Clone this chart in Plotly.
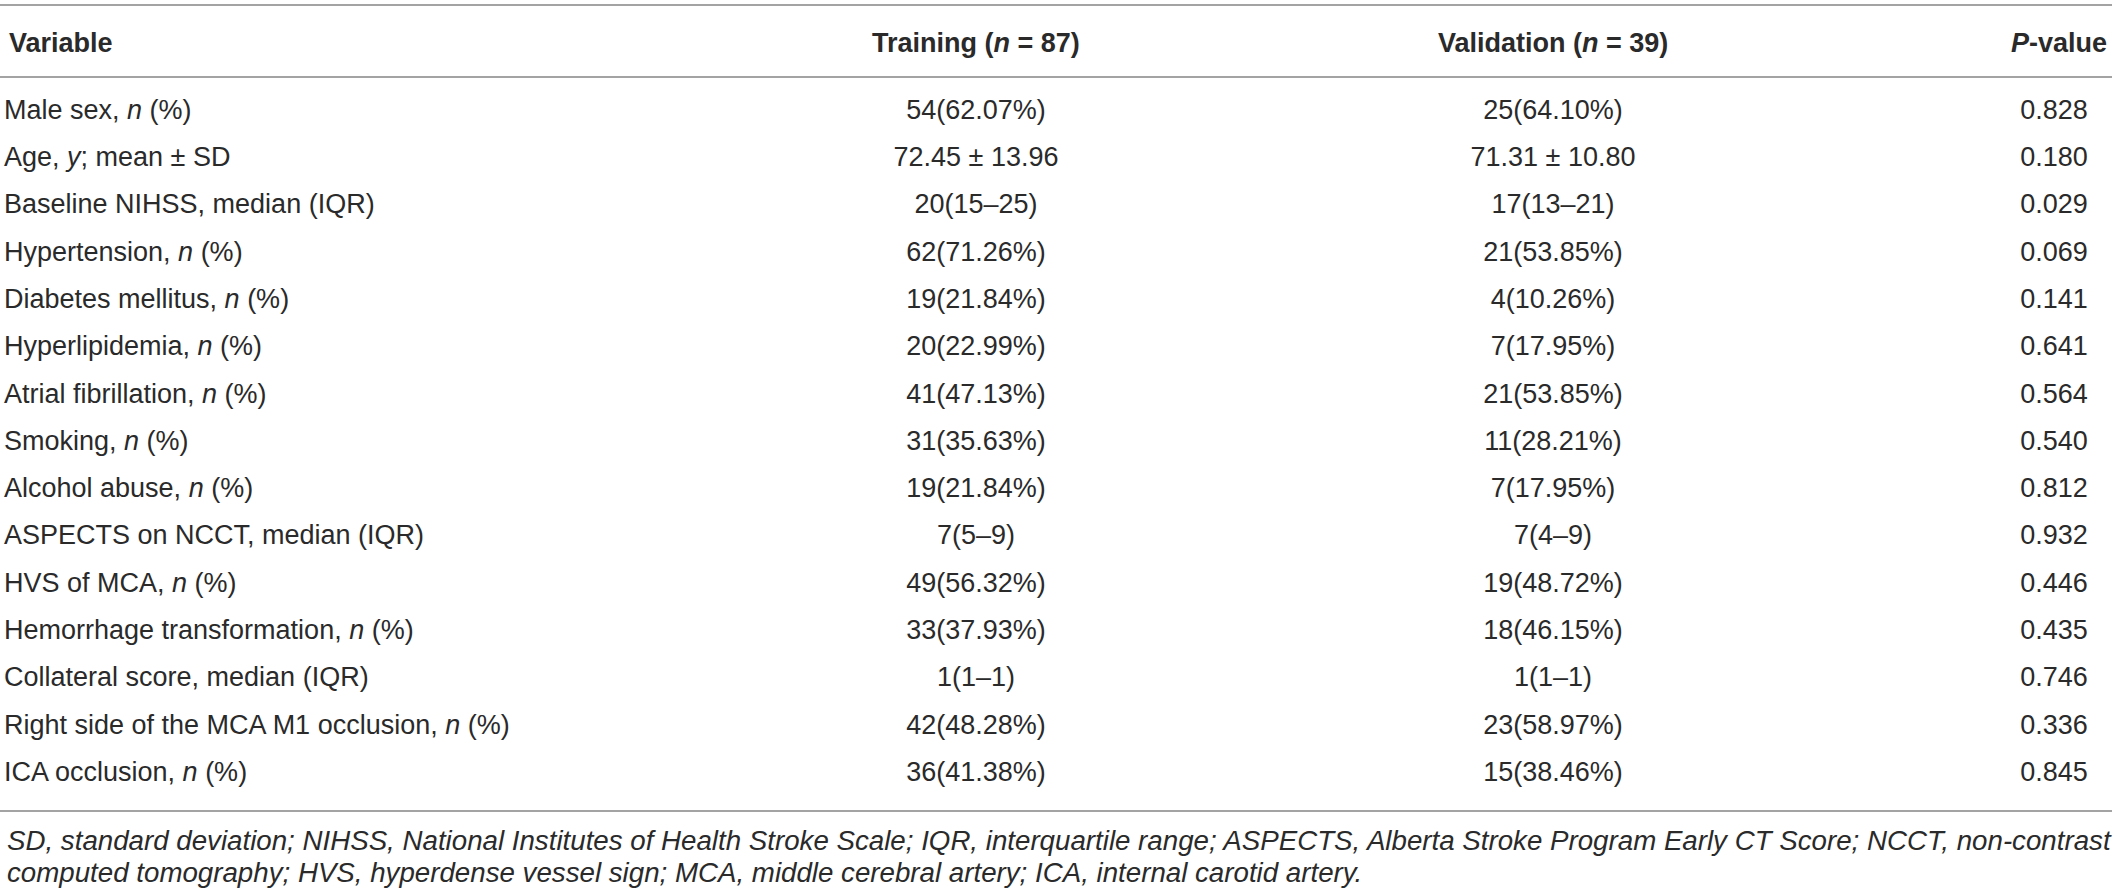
import plotly.graph_objects as go

# table content
variables = [
    "Male sex, <i>n</i> (%)",
    "Age, <i>y</i>; mean ± SD",
    "Baseline NIHSS, median (IQR)",
    "Hypertension, <i>n</i> (%)",
    "Diabetes mellitus, <i>n</i> (%)",
    "Hyperlipidemia, <i>n</i> (%)",
    "Atrial fibrillation, <i>n</i> (%)",
    "Smoking, <i>n</i> (%)",
    "Alcohol abuse, <i>n</i> (%)",
    "ASPECTS on NCCT, median (IQR)",
    "HVS of MCA, <i>n</i> (%)",
    "Hemorrhage transformation, <i>n</i> (%)",
    "Collateral score, median (IQR)",
    "Right side of the MCA M1 occlusion, <i>n</i> (%)",
    "ICA occlusion, <i>n</i> (%)",
]
training = [
    "54(62.07%)", "72.45 ± 13.96", "20(15–25)", "62(71.26%)", "19(21.84%)",
    "20(22.99%)", "41(47.13%)", "31(35.63%)", "19(21.84%)", "7(5–9)",
    "49(56.32%)", "33(37.93%)", "1(1–1)", "42(48.28%)", "36(41.38%)",
]
validation = [
    "25(64.10%)", "71.31 ± 10.80", "17(13–21)", "21(53.85%)", "4(10.26%)",
    "7(17.95%)", "21(53.85%)", "11(28.21%)", "7(17.95%)", "7(4–9)",
    "19(48.72%)", "18(46.15%)", "1(1–1)", "23(58.97%)", "15(38.46%)",
]
p_values = [
    "0.828", "0.180", "0.029", "0.069", "0.141", "0.641", "0.564", "0.540",
    "0.812", "0.932", "0.446", "0.435", "0.746", "0.336", "0.845",
]
headers = ["<b>Variable</b>", "<b>Training (<i>n</i> = 87)</b>",
           "<b>Validation (<i>n</i> = 39)</b>", "<b><i>P</i>-value</b>"]
footnote = [
    "SD, standard deviation; NIHSS, National Institutes of Health Stroke Scale; IQR, interquartile range; "
    "ASPECTS, Alberta Stroke Program Early CT Score; NCCT, non-contrast",
    "computed tomography; HVS, hyperdense vessel sign; MCA, middle cerebral artery; ICA, internal carotid artery.",
]

W, H = 2118, 896
ROW0, STEP = 112, 47.3
FONT = "Liberation Sans, Arial, Helvetica, sans-serif"
TXT = "#2a2a2a"
LINE = "#a3a3a3"
SIZE = 27


def row_of(px):
    # pixel height -> row units on the y axis
    return (px - ROW0) / STEP


rows = list(range(len(variables)))
fig = go.Figure()

cols = [(variables, 4, "middle right"), (training, 976, "middle center"),
        (validation, 1553, "middle center"), (p_values, 2054, "middle center")]
for vals, xpos, pos in cols:
    fig.add_trace(go.Scatter(x=[xpos] * len(vals), y=rows, text=vals, mode="text",
                             textposition=pos, textfont=dict(family=FONT, size=SIZE, color=TXT),
                             hoverinfo="skip", showlegend=False, cliponaxis=False))

head_x = [7, 976, 1553, 2059]
head_anchor = ["left", "center", "center", "center"]
for txt, hx, anc in zip(headers, head_x, head_anchor):
    fig.add_annotation(x=hx, y=row_of(43), text=txt, showarrow=False,
                       xanchor=anc, yanchor="middle",
                       font=dict(family=FONT, size=SIZE, color=TXT))

for px in [5, 77, 811]:
    fig.add_shape(type="line", x0=0, x1=2112, y0=row_of(px), y1=row_of(px),
                  line=dict(color=LINE, width=2))

for i, line in enumerate(footnote):
    fig.add_annotation(x=5, y=row_of(840 + 32 * i), text=line, showarrow=False,
                       xanchor="left", yanchor="middle",
                       font=dict(family=FONT, size=27.7, color=TXT, style="italic"))

fig.update_layout(
    width=W, height=H, margin=dict(l=0, r=0, t=0, b=0),
    plot_bgcolor="white", paper_bgcolor="white",
    xaxis=dict(range=[0, W], visible=False, fixedrange=True),
    yaxis=dict(range=[row_of(H), row_of(0)], visible=False, fixedrange=True),
)

# the page's default 8px body margin pushes the figure off the window
fig.write_html("out.html", config={"displayModeBar": False},
               post_script="document.body.style.margin='0';document.body.style.overflow='hidden';")
